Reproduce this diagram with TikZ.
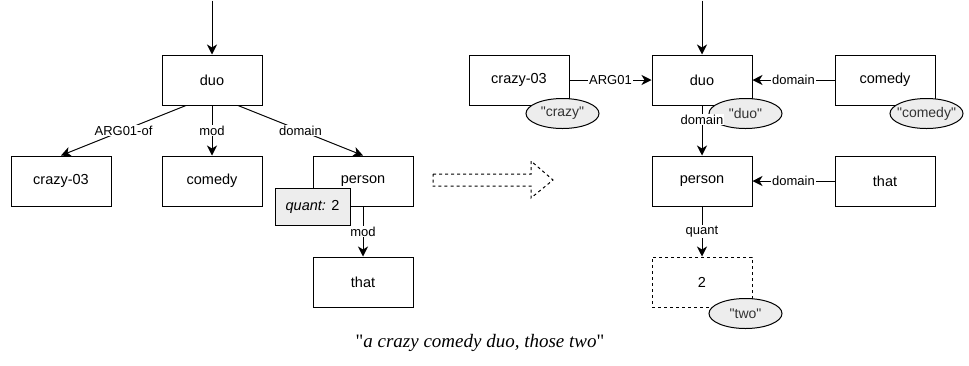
\documentclass[tikz,border=0pt]{standalone}
\usepackage{fontspec}
\setmainfont{Liberation Serif}[Ligatures=TeXOff]
\setsansfont{Liberation Sans}[Ligatures=TeXOff]
\usetikzlibrary{arrows.meta,shapes.geometric}

\begin{document}
\begin{tikzpicture}[x=1pt,y=-1pt,line width=1pt]
	% `concept' is a box of the graph, `tag' the grey name ellipse.
	% `rel' is used for the edge labels.
	\tikzstyle{concept} = [draw,fill=white,minimum width=100pt,minimum height=50pt,inner sep=2pt,font=\fontsize{14.5}{16}\sffamily]
	\tikzstyle{number} = [concept,dash pattern=on 3pt off 3pt]
	\tikzstyle{attr} = [draw,fill=black!7,minimum width=75pt,minimum height=37pt,inner sep=2pt,font=\fontsize{14.5}{16}\sffamily]
	\tikzstyle{tag} = [draw,ellipse,fill=black!7,minimum width=73pt,minimum height=30pt,inner sep=0pt]
	\tikzstyle{tagtext} = [text=black!80,inner sep=0pt,font=\fontsize{14}{16}\sffamily]
	\tikzstyle{edge} = [-{Stealth[length=10pt,width=10pt,inset=3pt]}]
	\tikzstyle{rel} = [fill=white,inner sep=1pt,font=\fontsize{13}{14}\sffamily]
	\useasboundingbox (0,0) rectangle (969,365);
	%
	\matrix[row sep=50pt,column sep=50pt,inner sep=0pt,anchor=north west] (tree) at (10,54) {
	% First row.
		& \node[concept] (lduo) {duo}; & \\
	% Second row.
		\node[concept] (lcrazy) {crazy-03}; &
		\node[concept] (lcomedy) {comedy}; &
		\node[concept] (lperson) {person}; \\
	% Third row.
		& & \node[concept] (lthat) {that}; \\
	};
	\matrix[row sep=50pt,column sep=82pt,inner sep=0pt,anchor=north west] (graph) at (468,54) {
	% First row.
		\node[concept] (rcrazy) {crazy-03}; &
		\node[concept] (rduo) {duo}; &
		\node[concept] (rcomedy) {comedy}; \\
	% Second row.
		& \node[concept] (rperson) {person}; &
		\node[concept] (rthat) {that}; \\
	% Third row.
		& \node[number] (rtwo) {2}; & \\
	};
	% Tree on the left.
	\coordinate (lroot) at ([yshift=54pt]lduo.north);
	\draw[edge] (lroot) -- (lduo);
	\draw[edge] ([xshift=-26pt]lduo.south) -- node[rel] {ARG01-of} (lcrazy.north);
	\draw[edge] (lduo) -- node[rel] {mod} (lcomedy);
	\draw[edge] ([xshift=26pt]lduo.south) -- node[rel] {domain} (lperson.north);
	\draw[edge] (lperson) -- node[rel] {mod} (lthat);
	\node[attr] (lquant) at (lperson.south west) {\textit{quant:} 2};
	% Dashed arrow in between.
	\draw[dash pattern=on 3pt off 3pt] (433,174) -- (531,174) -- (531,161) -- (553,180)
		-- (531,198) -- (531,186) -- (433,186) -- cycle;
	% Graph on the right.
	\coordinate (rroot) at ([yshift=54pt]rduo.north);
	\draw[edge] (rroot) -- (rduo);
	\draw[edge] (rcrazy) -- node[rel] {ARG01} (rduo);
	\draw[edge] (rcomedy) -- node[rel] {domain} (rduo);
	\draw[edge] (rthat) -- node[rel] {domain} (rperson);
	\draw[edge] (rperson) -- node[rel] {quant} (rtwo);
	% Name ellipses.
	\node[tag] (tcrazy) at ([shift={(-7,8)}]rcrazy.south east) {};
	\node[tag] (tduo) at ([shift={(-7,8)}]rduo.south east) {};
	\node[tag] (tcomedy) at ([shift={(-9,8)}]rcomedy.south east) {};
	\node[tag] (ttwo) at ([shift={(-7,6)}]rtwo.south east) {};
	\node[tagtext] at (tcrazy) {"crazy"};
	\node[tagtext] at (tduo) {"duo"};
	\node[tagtext] at (tcomedy) {"comedy"};
	\node[tagtext] at (ttwo) {"two"};
	\draw[edge] (rduo) -- node[rel,pos=0.28] {domain} (rperson);
	% Sentence.
	\node[font=\fontsize{19}{22}\selectfont\itshape] (sentence) at (480,343) {\textup{"}a crazy comedy duo, those two\textup{"}};
\end{tikzpicture}
\end{document}
